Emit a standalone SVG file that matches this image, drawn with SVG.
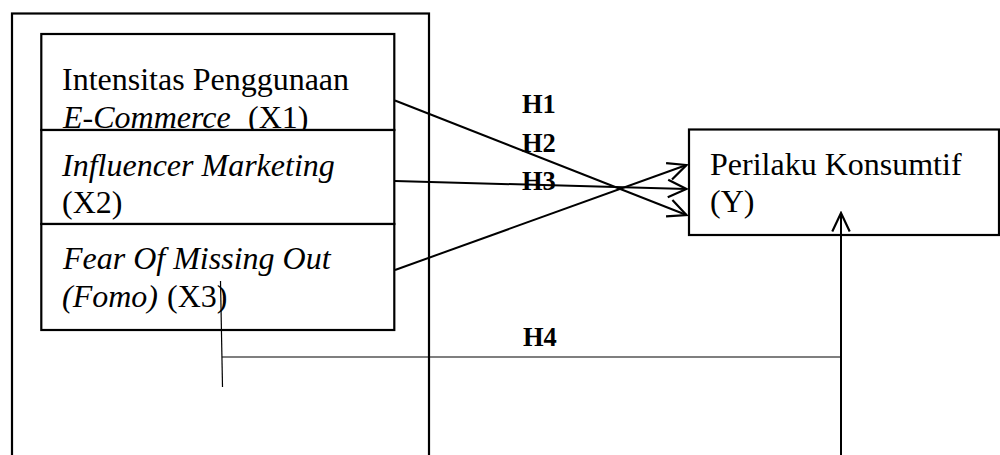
<svg xmlns="http://www.w3.org/2000/svg" width="1000" height="455" viewBox="0 0 1000 455">
  <style>
    .box { fill: #ffffff; stroke: #000000; stroke-width: 2.2; }
    .frame { fill: none; stroke: #000000; stroke-width: 2.2; }
    .txt { font-family: "Liberation Serif", "Times New Roman", serif; font-size: 32px; fill: #000000; }
    .it { font-style: italic; }
    .lbl { font-family: "Liberation Serif", "Times New Roman", serif; font-size: 26.5px; font-weight: bold; fill: #000000; }
    .edge { fill: none; stroke: #000000; stroke-width: 2; }
    .thin { fill: none; stroke: #000000; stroke-width: 1.2; }
  </style>
  <defs>
    <marker id="open-arrow" markerUnits="userSpaceOnUse" markerWidth="24" markerHeight="24" viewBox="-20 -10 22 20" refX="0" refY="0" orient="auto">
      <path d="M-17,-8 L0,0 L-17,8" fill="none" stroke="#000000" stroke-width="2"/>
    </marker>
  </defs>

  <rect width="1000" height="455" fill="#ffffff"/>

  <!-- outer frame around the independent variables -->
  <g id="frame">
    <rect class="frame" x="12" y="13.5" width="417" height="460"/>
  </g>

  <!-- independent variables -->
  <g id="x1">
    <rect class="box" x="41.3" y="34" width="353" height="96"/>
    <text class="txt" x="62" y="90">Intensitas Penggunaan</text>
    <text class="txt" y="128"><tspan class="it" x="63">E-Commerce</tspan><tspan x="248">(X1)</tspan></text>
  </g>
  <g id="x2">
    <rect class="box" x="41.3" y="130" width="353" height="94"/>
    <text class="txt it" x="62" y="175.5">Influencer Marketing</text>
    <text class="txt" x="62" y="213">(X2)</text>
  </g>
  <g id="x3">
    <rect class="box" x="41.3" y="224" width="353" height="106"/>
    <text class="txt it" x="63" y="269">Fear Of Missing Out</text>
    <text class="txt" y="307"><tspan class="it" x="62">(Fomo)</tspan><tspan x="167">(X3)</tspan></text>
  </g>

  <!-- dependent variable -->
  <g id="y">
    <rect class="box" x="689" y="129.5" width="310" height="105.5"/>
    <text class="txt" x="710" y="175">Perilaku Konsumtif</text>
    <text class="txt" x="710" y="212">(Y)</text>
  </g>

  <!-- connectors -->
  <g id="connectors">
    <line class="edge" x1="395" y1="100.5" x2="686.5" y2="215" marker-end="url(#open-arrow)"/>
    <line class="edge" x1="395" y1="181" x2="686.5" y2="189" marker-end="url(#open-arrow)"/>
    <line class="edge" x1="395" y1="270" x2="686.5" y2="165" marker-end="url(#open-arrow)"/>
    <line class="thin" x1="220.5" y1="281" x2="222.5" y2="387"/>
    <line class="thin" x1="222" y1="357" x2="841" y2="357"/>
    <line class="edge" x1="841" y1="455" x2="841" y2="213" marker-end="url(#open-arrow)"/>
  </g>

  <!-- hypothesis labels -->
  <g id="labels">
    <text class="lbl" x="522" y="113">H1</text>
    <text class="lbl" x="522" y="152">H2</text>
    <text class="lbl" x="522" y="190">H3</text>
    <text class="lbl" x="523" y="346">H4</text>
  </g>
</svg>
